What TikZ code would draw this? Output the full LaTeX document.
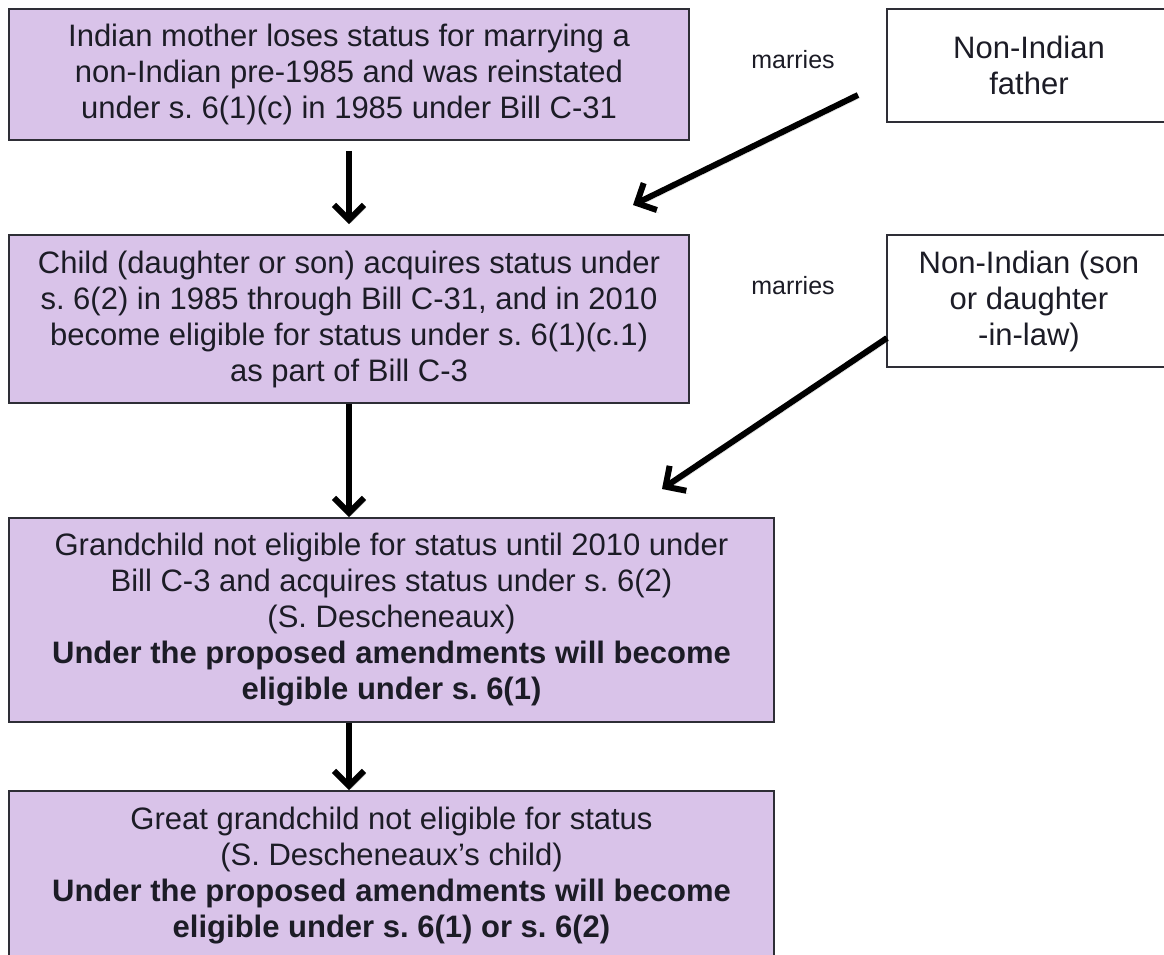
\documentclass[tikz,border=0pt]{standalone}
\usepackage{fontspec}
\setmainfont{Liberation Sans}
\usetikzlibrary{arrows.meta}
\definecolor{lav}{HTML}{D9C3E9}
\definecolor{ink}{HTML}{1C1C26}
\definecolor{edge}{HTML}{2E2E36}
\frenchspacing
\begin{document}
\begin{tikzpicture}[x=1bp,y=-1bp,
  basebox/.style={draw=edge, line width=1.6bp, text=ink, align=center,
    inner sep=0pt, font=\fontsize{31bp}{36bp}\selectfont},
  stagebox/.style={basebox, fill=lav},
  partnerbox/.style={basebox, fill=white},
  marrytext/.style={text=ink, inner sep=0pt, font=\fontsize{25bp}{30bp}\selectfont},
  flow/.style={line width=6bp, draw=black,
    -{Straight Barb[length=15bp,width=30bp]},
    preaction={draw=black!40, opacity=0.35,
      transform canvas={shift={(2bp,-3bp)}}}}
]
\useasboundingbox (0,0) rectangle (1164,955);
\clip (0,0) rectangle (1164,955);
\fill[white] (0,0) rectangle (1164,955);

% generations
\node[stagebox, minimum width=680bp, minimum height=131bp] (mother) at (349,74.5)
  {Indian mother loses status for marrying a\\
   non-Indian pre-1985 and was reinstated\\
   under s. 6(1)(c) in 1985 under Bill C-31};
\node[stagebox, minimum width=680bp, minimum height=168bp] (child) at (349,319)
  {Child (daughter or son) acquires status under\\
   s. 6(2) in 1985 through Bill C-31, and in 2010\\
   become eligible for status under s. 6(1)(c.1)\\
   as part of Bill C-3};
\node[stagebox, minimum width=765bp, minimum height=204bp] (grand) at (391.5,620)
  {Grandchild not eligible for status until 2010 under\\
   Bill C-3 and acquires status under s. 6(2)\\
   (S. Descheneaux)\\
   \textbf{Under the proposed amendments will become}\\
   \textbf{eligible under s. 6(1)}};
\node[stagebox, minimum width=765bp, minimum height=169bp] (great) at (391.5,875.5)
  {Great grandchild not eligible for status\\
   (S. Descheneaux’s child)\\
   \textbf{Under the proposed amendments will become}\\
   \textbf{eligible under s. 6(1) or s. 6(2)}};

% spouses
\node[partnerbox, minimum width=284bp, minimum height=113bp] (father) at (1029,65.5)
  {Non-Indian\\ father};
\node[partnerbox, minimum width=284bp, minimum height=132bp] (inlaw) at (1029,301)
  {Non-Indian (son\\ or daughter\\ -in-law)};

\node[marrytext] (marries1) at (793,60) {marries};
\node[marrytext] (marries2) at (793,286) {marries};

% descent
\draw[flow, shorten <=10bp, shorten >=10bp] (mother) -- (child);
\draw[flow] (child.south) -- (child.south |- grand.north);
\draw[flow] (child.south |- grand.south) -- (child.south |- great.north);

% marriages
\coordinate (fatherTail) at (858,95);
\coordinate (fatherHead) at (633,205);
\coordinate (inlawTail) at (887,338);
\coordinate (inlawHead) at (662,489);
\draw[flow] (fatherTail) -- (fatherHead);
\draw[flow] (inlawTail) -- (inlawHead);
\end{tikzpicture}
\end{document}
